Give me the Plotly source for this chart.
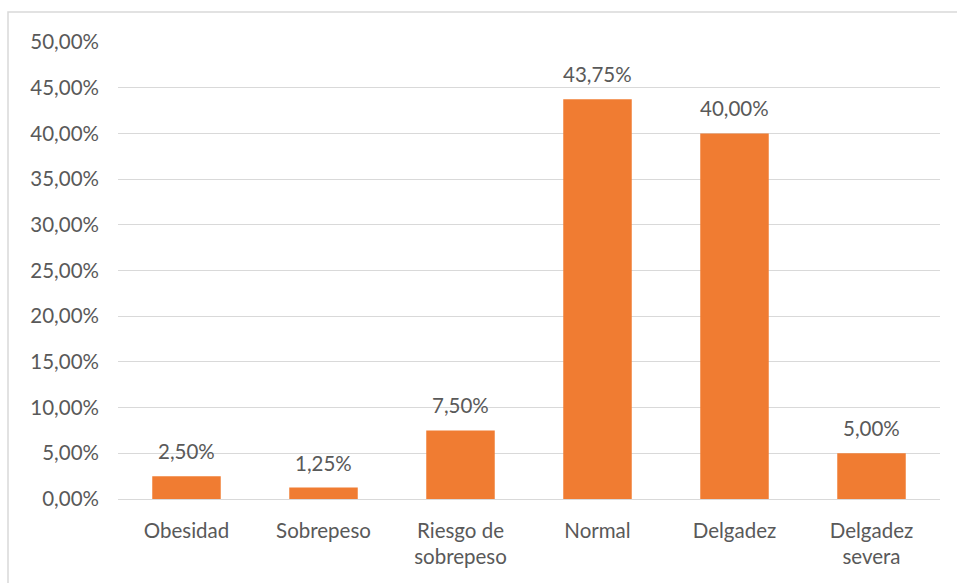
import plotly.graph_objects as go

# Estado nutricional: porcentaje por categoría
categorias = ["Obesidad", "Sobrepeso", "Riesgo de<br>sobrepeso", "Normal", "Delgadez", "Delgadez<br>severa"]
porcentajes = [0.025, 0.0125, 0.075, 0.4375, 0.40, 0.05]
ticks_y = [0.0, 0.05, 0.10, 0.15, 0.20, 0.25, 0.30, 0.35, 0.40, 0.45, 0.50]

W, H = 957, 583
L, R, T, B = 118, 17, 42, 84
pw, ph = W - L - R, H - T - B
FONT = "Lato"
GRIS = "#595959"
TAM = 20.5


def etiqueta(v):
    return f"{v * 100:.2f}%".replace(".", ",")


fig = go.Figure(
    go.Bar(
        x=categorias,
        y=porcentajes,
        marker=dict(color="#F07C32", line=dict(width=0)),
        width=0.5,
        hoverinfo="skip",
    )
)

# Etiquetas de valor sobre cada barra
for c, v in zip(categorias, porcentajes):
    fig.add_annotation(
        x=c, y=v, text=etiqueta(v), showarrow=False,
        yanchor="bottom", yshift=11,
        font=dict(family=FONT, size=TAM, color=GRIS),
    )

fig.update_layout(
    width=W,
    height=H,
    margin=dict(l=L, r=R, t=T, b=B),
    paper_bgcolor="white",
    plot_bgcolor="white",
    separators=",.",
    showlegend=False,
    font=dict(family=FONT, size=TAM, color=GRIS),
    shapes=[
        dict(
            type="rect", xref="paper", yref="paper",
            x0=(8 - L) / pw, x1=(W + 20 - L) / pw,
            y0=-(B + 30) / ph, y1=(ph + T - 12) / ph,
            line=dict(color="#d9d9d9", width=1.5),
            fillcolor="rgba(0,0,0,0)",
            layer="below",
        )
    ],
)

fig.update_xaxes(
    showgrid=False,
    showline=False,
    ticks="",
    tickfont=dict(family=FONT, size=TAM, color=GRIS),
    ticklabelstandoff=17,
)
fig.update_yaxes(
    range=[0, 0.5],
    tickvals=ticks_y,
    tickformat=".2%",
    showgrid=True,
    gridcolor="#d9d9d9",
    gridwidth=1,
    zeroline=True,
    zerolinecolor="#d9d9d9",
    zerolinewidth=1,
    showline=False,
    ticks="",
    ticklabelstandoff=18,
    tickfont=dict(family=FONT, size=TAM, color=GRIS),
)

fig.write_html("out.html")
